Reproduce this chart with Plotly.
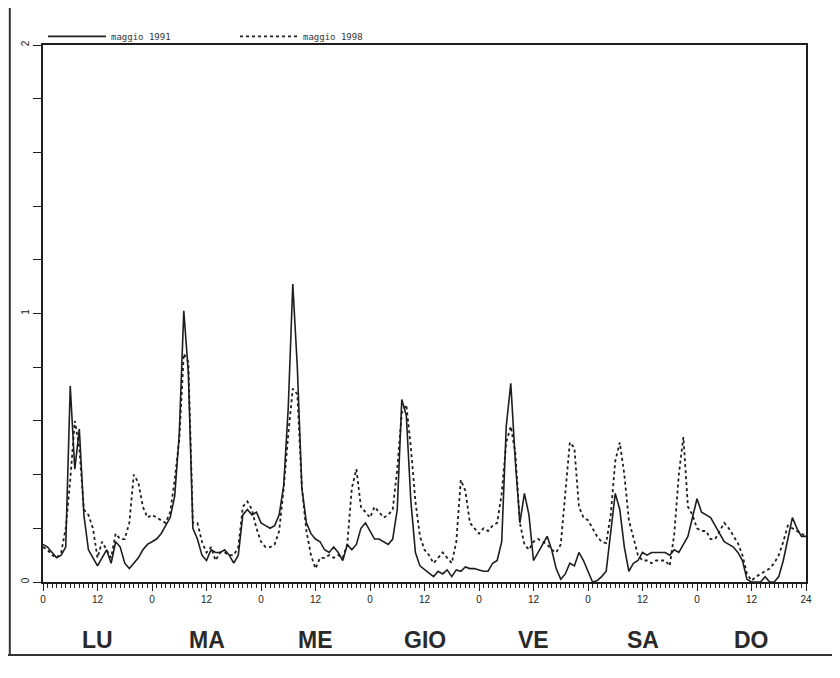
import plotly.graph_objects as go

hours = list(range(0, 169))

maggio_1991 = [
    0.14, 0.13, 0.11, 0.09, 0.10, 0.13, 0.73, 0.42, 0.57, 0.25, 0.12, 0.09,
    0.06, 0.09, 0.12, 0.07, 0.15, 0.13, 0.07, 0.05, 0.07, 0.09, 0.12, 0.14,
    0.15, 0.16, 0.18, 0.21, 0.24, 0.32, 0.55, 1.01, 0.78, 0.20, 0.16, 0.10,
    0.08, 0.12, 0.11, 0.11, 0.12, 0.10, 0.07, 0.10, 0.25, 0.27, 0.25, 0.26,
    0.22, 0.21, 0.20, 0.21, 0.25, 0.36, 0.65, 1.11, 0.80, 0.35, 0.22, 0.18,
    0.16, 0.15, 0.12, 0.11, 0.13, 0.11, 0.08, 0.14, 0.12, 0.14, 0.20, 0.22,
    0.19, 0.16, 0.16, 0.15, 0.14, 0.16, 0.27, 0.68, 0.62, 0.30, 0.11, 0.06,
    0.045, 0.033, 0.02, 0.04, 0.03, 0.045, 0.02, 0.045, 0.04, 0.056, 0.05, 0.05,
    0.045, 0.04, 0.04, 0.07, 0.08, 0.15, 0.58, 0.74, 0.45, 0.22, 0.33, 0.25,
    0.08, 0.11, 0.14, 0.17, 0.12, 0.05, 0.01, 0.03, 0.07, 0.06, 0.11, 0.08,
    0.04, 0.0, 0.005, 0.02, 0.04, 0.18, 0.33, 0.27, 0.13, 0.04, 0.07, 0.08,
    0.11, 0.10, 0.11, 0.11, 0.11, 0.11, 0.10, 0.12, 0.11, 0.14, 0.17, 0.24,
    0.31, 0.26, 0.25, 0.24, 0.21, 0.18, 0.15, 0.14, 0.13, 0.11, 0.08, 0.01,
    0.0, 0.0, 0.0, 0.02, 0.0, 0.0, 0.02, 0.08, 0.16, 0.24, 0.20, 0.17,
    0.17,
]

maggio_1998 = [
    0.13, 0.12, 0.10, 0.09, 0.11, 0.20, 0.38, 0.60, 0.50, 0.27, 0.25, 0.20,
    0.09, 0.15, 0.12, 0.09, 0.18, 0.16, 0.16, 0.22, 0.40, 0.37, 0.28, 0.24,
    0.25, 0.24, 0.23, 0.22, 0.26, 0.38, 0.53, 0.85, 0.82, 0.22, 0.22, 0.15,
    0.11, 0.13, 0.08, 0.11, 0.11, 0.10, 0.10, 0.13, 0.28, 0.30, 0.27, 0.20,
    0.15, 0.13, 0.13, 0.14, 0.19, 0.35, 0.55, 0.72, 0.70, 0.35, 0.19, 0.10,
    0.05, 0.09, 0.09, 0.10, 0.09, 0.10, 0.09, 0.14, 0.35, 0.42, 0.28, 0.26,
    0.24, 0.28, 0.26, 0.24, 0.25, 0.27, 0.42, 0.63, 0.66, 0.50, 0.30, 0.17,
    0.12, 0.10, 0.07, 0.09, 0.11, 0.09, 0.07, 0.15, 0.38, 0.34, 0.22, 0.20,
    0.18, 0.20, 0.19, 0.21, 0.22, 0.33, 0.52, 0.58, 0.48, 0.22, 0.14, 0.12,
    0.15, 0.16, 0.15, 0.14, 0.12, 0.11, 0.14, 0.32, 0.52, 0.50, 0.28, 0.24,
    0.23, 0.20, 0.17, 0.15, 0.145, 0.25, 0.45, 0.52, 0.40, 0.23, 0.17, 0.10,
    0.08, 0.08, 0.07, 0.08, 0.08, 0.08, 0.06, 0.18, 0.40, 0.54, 0.28, 0.25,
    0.20, 0.19, 0.19, 0.16, 0.16, 0.19, 0.22, 0.20, 0.17, 0.145, 0.10, 0.03,
    0.005, 0.02, 0.03, 0.04, 0.05, 0.07, 0.10, 0.15, 0.21, 0.20, 0.19, 0.18,
    0.17,
]

x_tick_vals = [0, 12, 24, 36, 48, 60, 72, 84, 96, 108, 120, 132, 144, 156, 168]
x_tick_text = ["0", "12", "0", "12", "0", "12", "0", "12", "0", "12", "0", "12", "0", "12", "24"]
y_tick_vals = [0, 0.2, 0.4, 0.6, 0.8, 1.0, 1.2, 1.4, 1.6, 1.8, 2.0]
y_tick_text = ["0", "", "", "", "", "1", "", "", "", "", "2"]
days = ["LU", "MA", "ME", "GIO", "VE", "SA", "DO"]
day_centers = [12, 36, 60, 84, 108, 132, 156]

ink = "#1e1e1e"

fig = go.Figure()
fig.add_trace(go.Scatter(x=hours, y=maggio_1991, mode="lines", name="maggio 1991",
                         line=dict(color=ink, width=1.6)))
fig.add_trace(go.Scatter(x=hours, y=maggio_1998, mode="lines", name="maggio 1998",
                         line=dict(color=ink, width=1.8, dash="dot")))

for d, c in zip(days, day_centers):
    fig.add_annotation(x=c, y=-0.108, xref="x", yref="paper", yanchor="middle",
                       text=d, showarrow=False,
                       font=dict(family="Liberation Sans", size=23, color="#2a2a2a", weight="bold"))

# scanned page frame (left edge and bottom edge)
fig.add_shape(type="line", xref="paper", yref="paper", x0=-0.0435, x1=-0.0435, y0=-0.136, y1=1.09,
              line=dict(color="#333", width=2))
fig.add_shape(type="line", xref="paper", yref="paper", x0=-0.06, x1=1.05, y0=-0.136, y1=-0.136,
              line=dict(color="#333", width=2))

fig.update_layout(
    width=832, height=670,
    margin=dict(l=35, r=34, t=37, b=96, autoexpand=False),
    paper_bgcolor="white", plot_bgcolor="white",
    showlegend=True,
    legend=dict(orientation="h", x=0.0, y=1.016, xanchor="left", yanchor="middle",
                font=dict(family="DejaVu Sans Mono", size=9, color="#333"),
                bgcolor="rgba(0,0,0,0)", entrywidth=119, entrywidthmode="pixels",
                itemwidth=58, tracegroupgap=0),
    xaxis=dict(range=[0, 168], tickvals=x_tick_vals, ticktext=x_tick_text,
               ticks="outside", ticklen=7, tickcolor=ink, tickwidth=1.2,
               minor=dict(dtick=1, ticks="outside", ticklen=4, tickcolor=ink, tickwidth=0.8),
               showline=True, linecolor=ink, linewidth=1.6, mirror=True,
               showgrid=False, zeroline=False, automargin=False,
               tickfont=dict(family="Liberation Sans", size=10, color="#222")),
    yaxis=dict(range=[0, 2], tickvals=y_tick_vals, ticktext=y_tick_text,
               ticks="outside", ticklen=8, tickcolor=ink, tickwidth=1.2, tickangle=-90,
               showline=True, linecolor=ink, linewidth=1.6, mirror=True,
               showgrid=False, zeroline=False, automargin=False,
               tickfont=dict(family="Liberation Sans", size=10, color="#222")),
)

fig.write_html("out.html")
